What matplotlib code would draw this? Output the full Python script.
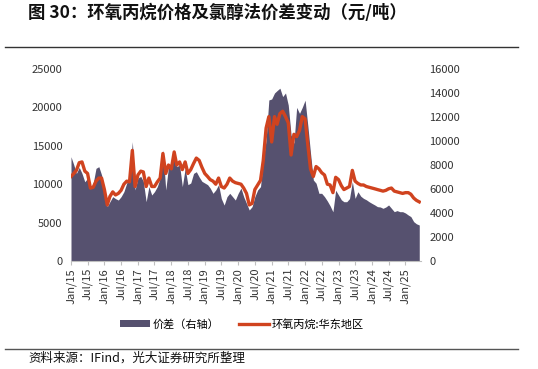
import numpy as np
import pandas as pd
import matplotlib
matplotlib.use("Agg")
import matplotlib.pyplot as plt
import matplotlib.dates as mdates
from matplotlib.patches import Patch
from matplotlib.lines import Line2D

plt.rcParams["font.family"] = ["Noto Sans CJK SC", "DejaVu Sans"]

# monthly, Jan 2015 .. Jun 2025
months = pd.date_range("2015-01-01", periods=126, freq="MS")

# 环氧丙烷:华东地区 (left axis, 元/吨)
po_price = [
    11000, 11400, 11800, 12800, 12900, 11700, 11400, 9500, 9600, 10400, 10800, 10800,
    9300, 7300, 8400, 9000, 8600, 8800, 9200, 10000, 10400, 10300, 14400, 9700,
    11200, 11700, 11600, 9700, 10800, 9700, 9700, 10300, 10800, 14000, 11400, 12500,
    12000, 14200, 12500, 12900, 11900, 12900, 11400, 11900, 12700, 13400, 13100, 12200,
    11400, 11000, 10600, 10400, 10000, 10800, 9700, 9500, 10000, 10800, 10400, 10200,
    10100, 10000, 9500, 8800, 7300, 7500, 9300, 9900, 10500, 13100, 17300, 18800,
    15500, 18800, 17800, 19200, 19500, 18800, 18000, 13800, 16500, 16200, 17000, 18800,
    18500, 15000, 12000, 11000, 12300, 12000, 11500, 11200, 10000, 9900, 8900, 10900,
    10600, 9800, 9300, 9500, 9700, 11800, 10400, 10100, 9900, 9900, 9700, 9600,
    9500, 9400, 9300, 9200, 9100, 9200, 9400, 9500, 9100, 9000, 8900, 8800,
    8900, 8900, 8700, 8200, 7900, 7700,
]

# 价差 (right axis, 元/吨)
spread = [
    8690, 8000, 7300, 7800, 7300, 6600, 6900, 6000, 6500, 7720, 7860, 7170,
    5920, 4530, 4940, 5360, 5200, 5080, 5360, 5780, 6500, 7000, 9940, 5920,
    6920, 7050, 6640, 4940, 6200, 5500, 5780, 6200, 6920, 9250, 5920, 7860,
    8000, 9250, 7860, 8000, 6200, 7720, 6360, 6500, 7300, 7440, 7000, 6640,
    6500, 6360, 6080, 5640, 5920, 6360, 5200, 4660, 5360, 5640, 5360, 5080,
    5640, 6080, 5360, 4800, 4250, 4530, 5360, 5920, 6200, 8420, 10080, 13420,
    13500, 14000, 14200, 14400, 13700, 14000, 13000, 10500, 9800, 12800, 12300, 12800,
    13400, 11200, 9000, 6750, 6480, 5640, 5640, 5360, 5000, 4600, 4100, 5900,
    5500, 5100, 4940, 4940, 5200, 6610, 5220, 5770, 5400, 5220, 5100, 4940,
    4800, 4670, 4530, 4500, 4390, 4500, 4670, 4390, 4110, 4200, 4110, 4110,
    4000, 3830, 3700, 3280, 3100, 3000,
]

AREA_COLOR = "#56516F"
LINE_COLOR = "#D0431F"

fig = plt.figure(figsize=(5.38, 3.69), dpi=100)
ax = fig.add_axes([71 / 538, 1 - 261 / 369, 350 / 538, 192 / 369])
ax2 = ax.twinx()

ax2.fill_between(months, spread, 0, color=AREA_COLOR, linewidth=0)
ax.plot(months, po_price, color=LINE_COLOR, linewidth=2.4)

# line drawn above the area
ax.set_zorder(ax2.get_zorder() + 1)
ax.patch.set_visible(False)

ax.set_ylim(0, 25000)
ax.set_yticks(np.arange(0, 25001, 5000))
ax2.set_ylim(0, 16000)
ax2.set_yticks(np.arange(0, 16001, 2000))
ax.set_xlim(pd.Timestamp("2015-01-01"), pd.Timestamp("2025-06-20"))

xt = pd.date_range("2015-01-01", "2025-01-01", freq="6MS")
ax.set_xticks(xt)
ax.xaxis.set_major_formatter(mdates.DateFormatter("%b/%y"))
plt.setp(ax.get_xticklabels(), rotation=90)

for a in (ax, ax2):
    for s in ("top", "left", "right"):
        a.spines[s].set_visible(False)
    a.spines["bottom"].set_color("#bfbfbf")
    a.tick_params(axis="y", length=0, labelsize=8, colors="#333333", pad=6)
ax.tick_params(axis="x", length=3, color="#bfbfbf", labelsize=8, labelcolor="#333333", pad=2)
ax2.spines["bottom"].set_visible(False)

handles = [
    Patch(facecolor=AREA_COLOR, edgecolor="none", label="价差（右轴）"),
    Line2D([], [], color=LINE_COLOR, linewidth=2.4, label="环氧丙烷:华东地区"),
]
fig.legend(handles=handles, loc="center", bbox_to_anchor=(242 / 538, 1 - 324 / 369),
           ncol=2, frameon=False, fontsize=8, handlelength=2.7, handleheight=0.6,
           handletextpad=0.2, columnspacing=1.8)

fig.text(28 / 538, 1 - 13 / 369, "图 30：环氧丙烷价格及氯醇法价差变动（元/吨）",
         fontsize=12.5, fontweight="bold", va="center", ha="left", color="#111111")
fig.add_artist(Line2D([5 / 538, 518 / 538], [1 - 47 / 369, 1 - 47 / 369],
                      color="#333333", linewidth=1))
fig.add_artist(Line2D([5 / 538, 518 / 538], [1 - 349 / 369, 1 - 349 / 369],
                      color="#555555", linewidth=1))
fig.text(28 / 538, 1 - 358 / 369, "资料来源：IFind，光大证券研究所整理",
         fontsize=9, va="center", ha="left", color="#111111")

fig.savefig("out.png", dpi=100)
